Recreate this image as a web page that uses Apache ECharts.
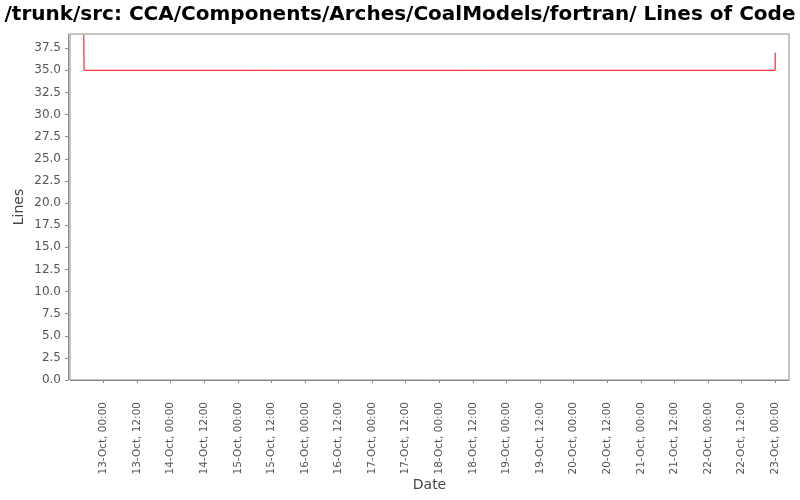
<!DOCTYPE html>
<html><head><meta charset="utf-8">
<script src="https://cdn.jsdelivr.net/npm/echarts@6/dist/echarts.min.js"></script>
<style>html,body{margin:0;padding:0;background:#fff}#c{width:800px;height:500px}</style>
</head><body><div id="c"></div>
<script>
const titleText = "/trunk/src: CCA/Components/Arches/CoalModels/fortran/ Lines of Code";
const dates = ["2011-10-12T17:00:00", "2011-10-12T17:05:00", "2011-10-15T10:00:00", "2011-10-18T09:00:00", "2011-10-21T14:00:00", "2011-10-23T00:00:00"];
const lines = [39, 35, 35, 35, 35, 37];
const yTicks = [0, 2.5, 5, 7.5, 10, 12.5, 15, 17.5, 20, 22.5, 25, 27.5, 30, 32.5, 35, 37.5];
const xTickLabels = ["2011-10-13T00:00:00","2011-10-13T12:00:00","2011-10-14T00:00:00","2011-10-14T12:00:00","2011-10-15T00:00:00","2011-10-15T12:00:00","2011-10-16T00:00:00","2011-10-16T12:00:00","2011-10-17T00:00:00","2011-10-17T12:00:00","2011-10-18T00:00:00","2011-10-18T12:00:00","2011-10-19T00:00:00","2011-10-19T12:00:00","2011-10-20T00:00:00","2011-10-20T12:00:00","2011-10-21T00:00:00","2011-10-21T12:00:00","2011-10-22T00:00:00","2011-10-22T12:00:00","2011-10-23T00:00:00"];

const ts = dates.map(d => new Date(d).getTime());
const xTicks = xTickLabels.map(d => new Date(d).getTime());
const span = ts[ts.length-1] - ts[0];
const xMin = ts[0] - span*0.02, xMax = ts[ts.length-1] + span*0.02;
const months = ["Jan","Feb","Mar","Apr","May","Jun","Jul","Aug","Sep","Oct","Nov","Dec"];
const pad = n => String(n).padStart(2,'0');
const fmt = v => { const d = new Date(v); return pad(d.getDate()) + "-" + months[d.getMonth()] + ", " + pad(d.getHours()) + ":" + pad(d.getMinutes()); };

const chart = echarts.init(document.getElementById('c'), null, {renderer:'canvas'});
chart.setOption({
  animation:false,
  backgroundColor:'#fff',
  title:{text:titleText, left:'center', top:0, textStyle:{fontFamily:'DejaVu Sans', fontWeight:'bold', fontSize:20, color:'#000'}},
  grid:{left:70, right:11, top:34, bottom:120, show:true, borderColor:'#888', borderWidth:1, containLabel:false, outerBoundsMode:'none'},
  xAxis:{type:'value', min:xMin, max:xMax, offset:4, scale:true,
    name:'Date', nameLocation:'middle', nameGap:94, nameMoveOverlap:false, nameTextStyle:{fontFamily:'DejaVu Sans', fontSize:14, color:'#444'},
    axisLine:{show:true, lineStyle:{color:'#888'}},
    axisTick:{show:true, customValues:xTicks, length:3, lineStyle:{color:'#888'}},
    axisLabel:{customValues:xTicks, rotate:90, formatter:v=>fmt(v), fontFamily:'DejaVu Sans', fontSize:10.5, color:'#555', margin:18, hideOverlap:false},
    splitLine:{show:false}},
  yAxis:{type:'value', min:0, max:39.1, offset:2,
    name:'Lines', nameLocation:'middle', nameGap:42, nameMoveOverlap:false, nameRotate:90, nameTextStyle:{fontFamily:'DejaVu Sans', fontSize:14, color:'#444'},
    axisLine:{show:true, lineStyle:{color:'#888'}},
    axisTick:{show:true, customValues:yTicks, length:3, lineStyle:{color:'#888'}},
    axisLabel:{customValues:yTicks, formatter:v=>v.toFixed(1), fontFamily:'DejaVu Sans', fontSize:12, color:'#555', margin:7},
    splitLine:{show:false}},
  series:[{type:'line', step:'end', showSymbol:false, data:ts.map((t,i)=>[t, lines[i]]), lineStyle:{color:'#ff0000', width:1}, itemStyle:{color:'#ff0000'}}]
});
</script></body></html>
